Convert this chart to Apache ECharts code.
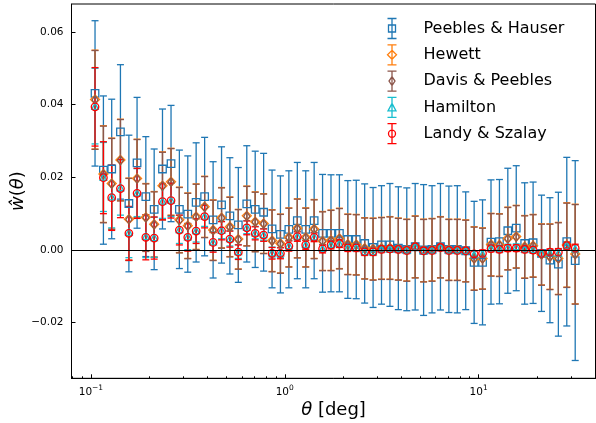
<!DOCTYPE html>
<html>
<head>
<meta charset="utf-8">
<script src="https://cdn.jsdelivr.net/npm/echarts@6/dist/echarts.min.js"></script>
<style>
  html, body { margin: 0; padding: 0; background: #fff; }
  #chart { width: 596px; height: 423px; }
</style>
</head>
<body>
<div id="chart"></div>
<script>
// bin centres (deg)
const theta = [0.105, 0.116, 0.128, 0.142, 0.157, 0.173, 0.192, 0.212, 0.234, 0.259,
  0.286, 0.316, 0.349, 0.386, 0.427, 0.472, 0.521, 0.576, 0.637, 0.704,
  0.778, 0.860, 0.950, 1.050, 1.161, 1.283, 1.418, 1.567, 1.732, 1.914,
  2.115, 2.338, 2.584, 2.856, 3.156, 3.488, 3.855, 4.261, 4.709, 5.204,
  5.752, 6.357, 7.026, 7.765, 8.582, 9.485, 10.48, 11.59, 12.81, 14.15,
  15.64, 17.29, 19.11, 21.12, 23.34, 25.80, 28.51, 31.51];

// Peebles & Hauser
const phVal = [0.0431, 0.0220, 0.0223, 0.0325, 0.0128, 0.0240, 0.0147, 0.0112, 0.0223, 0.0238,
  0.0112, 0.0099, 0.0131, 0.0147, 0.0083, 0.0124, 0.0094, 0.0069, 0.0127, 0.0112,
  0.0104, 0.0058, 0.0043, 0.0057, 0.0081, 0.0057, 0.0081, 0.0046, 0.0046, 0.0046,
  0.0029, 0.0029, 0.0018, 0.0007, 0.0014, 0.0014, 0.0005, 0.0002, 0.0009, 0.0000,
  0.0002, 0.0009, 0.0002, 0.0002, -0.0002, -0.0034, -0.0034, 0.0022, 0.0023, 0.0053,
  0.0060, 0.0018, 0.0020, -0.0009, -0.0028, -0.0039, 0.0023, -0.0029];
const phErr = [0.0200, 0.0204, 0.0192, 0.0185, 0.0188, 0.0180, 0.0165, 0.0166, 0.0165, 0.0160,
  0.0163, 0.0160, 0.0164, 0.0163, 0.0160, 0.0160, 0.0160, 0.0158, 0.0160, 0.0160,
  0.0162, 0.0162, 0.0161, 0.0161, 0.0160, 0.0161, 0.0160, 0.0162, 0.0161, 0.0161,
  0.0162, 0.0163, 0.0164, 0.0165, 0.0163, 0.0169, 0.0169, 0.0169, 0.0174, 0.0180,
  0.0175, 0.0174, 0.0174, 0.0175, 0.0162, 0.0168, 0.0172, 0.0171, 0.0171, 0.0172,
  0.0172, 0.0167, 0.0167, 0.0160, 0.0172, 0.0198, 0.0232, 0.0275];

// Hewett
const hwVal = [0.0414, 0.0209, 0.0183, 0.0248, 0.0085, 0.0197, 0.0090, 0.0071, 0.0177, 0.0188,
  0.0083, 0.0067, 0.0092, 0.0119, 0.0055, 0.0089, 0.0064, 0.0030, 0.0094, 0.0078,
  0.0073, 0.0026, 0.0018, 0.0035, 0.0060, 0.0035, 0.0058, 0.0025, 0.0027, 0.0032,
  0.0016, 0.0015, 0.0005, 0.0003, 0.0005, 0.0006, 0.0003, 0.0000, 0.0009, -0.0001,
  0.0001, 0.0008, 0.0001, 0.0001, -0.0002, -0.0023, -0.0023, 0.0015, 0.0014, 0.0032,
  0.0037, 0.0009, 0.0012, -0.0012, -0.0018, -0.0023, 0.0014, -0.0011];

// Davis & Peebles
const dpVal = [0.0413, 0.0208, 0.0182, 0.0247, 0.0084, 0.0196, 0.0089, 0.0070, 0.0176, 0.0187,
  0.0082, 0.0066, 0.0091, 0.0118, 0.0054, 0.0088, 0.0063, 0.0029, 0.0093, 0.0077,
  0.0072, 0.0025, 0.0017, 0.0034, 0.0059, 0.0034, 0.0057, 0.0024, 0.0026, 0.0031,
  0.0015, 0.0014, 0.0004, 0.0002, 0.0004, 0.0005, 0.0002, -0.0001, 0.0008, -0.0002,
  0.0000, 0.0007, 0.0000, 0.0000, -0.0003, -0.0024, -0.0024, 0.0014, 0.0013, 0.0031,
  0.0036, 0.0008, 0.0011, -0.0013, -0.0019, -0.0024, 0.0013, -0.0012];
const dpErr = [0.0136, 0.0133, 0.0125, 0.0112, 0.0113, 0.0108, 0.0093, 0.0090, 0.0093, 0.0092,
  0.0090, 0.0090, 0.0090, 0.0084, 0.0083, 0.0083, 0.0082, 0.0082, 0.0082, 0.0082,
  0.0082, 0.0085, 0.0081, 0.0081, 0.0081, 0.0081, 0.0081, 0.0081, 0.0083, 0.0083,
  0.0083, 0.0083, 0.0084, 0.0085, 0.0085, 0.0086, 0.0085, 0.0085, 0.0085, 0.0086,
  0.0086, 0.0084, 0.0084, 0.0084, 0.0085, 0.0087, 0.0084, 0.0086, 0.0086, 0.0086,
  0.0086, 0.0086, 0.0086, 0.0084, 0.0090, 0.0099, 0.0116, 0.0137];
// Hewett's bars lie under the Davis & Peebles ones
const hwErr = dpErr;

// Hamilton
const hmVal = [0.0396, 0.0201, 0.0147, 0.0172, 0.0049, 0.0158, 0.0038, 0.0035, 0.0135, 0.0138,
  0.0057, 0.0037, 0.0054, 0.0094, 0.0023, 0.0055, 0.0032, -0.0004, 0.0063, 0.0048,
  0.0043, -0.0007, -0.0007, 0.0013, 0.0039, 0.0016, 0.0037, 0.0005, 0.0016, 0.0019,
  0.0008, 0.0007, -0.0004, -0.0004, 0.0003, 0.0004, 0.0003, 0.0000, 0.0010, -0.0001,
  0.0000, 0.0008, 0.0000, 0.0000, -0.0001, -0.0012, -0.0010, 0.0006, 0.0004, 0.0008,
  0.0009, 0.0003, 0.0002, -0.0009, -0.0007, -0.0008, 0.0013, 0.0004];
const hmErr = [0.0104, 0.0095, 0.0086, 0.0076, 0.0070, 0.0066, 0.0059, 0.0055, 0.0048, 0.0046,
  0.0039, 0.0036, 0.0032, 0.0029, 0.0026, 0.0024, 0.0021, 0.0019, 0.0018, 0.0017,
  0.0016, 0.0015, 0.0014, 0.0013, 0.0012, 0.0011, 0.0011, 0.0010, 0.0010, 0.0010,
  0.0009, 0.0009, 0.0009, 0.0009, 0.0008, 0.0008, 0.0008, 0.0008, 0.0008, 0.0008,
  0.0008, 0.0008, 0.0008, 0.0008, 0.0008, 0.0008, 0.0008, 0.0008, 0.0008, 0.0008,
  0.0008, 0.0008, 0.0008, 0.0008, 0.0008, 0.0009, 0.0009, 0.0010];

// Landy & Szalay
const lsVal = [0.0394, 0.0199, 0.0144, 0.0169, 0.0046, 0.0156, 0.0035, 0.0033, 0.0133, 0.0136,
  0.0055, 0.0035, 0.0052, 0.0092, 0.0021, 0.0053, 0.0030, -0.0006, 0.0061, 0.0046,
  0.0041, -0.0009, -0.0009, 0.0011, 0.0037, 0.0014, 0.0035, 0.0003, 0.0014, 0.0018,
  0.0006, 0.0006, -0.0005, -0.0005, 0.0002, 0.0003, 0.0002, -0.0001, 0.0009, -0.0002,
  -0.0001, 0.0007, -0.0001, -0.0001, -0.0002, -0.0011, -0.0009, 0.0004, 0.0002, 0.0005,
  0.0005, 0.0002, 0.0000, -0.0009, -0.0006, -0.0006, 0.0012, 0.0005];
const lsErr = [0.0108, 0.0099, 0.0090, 0.0080, 0.0074, 0.0069, 0.0062, 0.0058, 0.0050, 0.0048,
  0.0041, 0.0038, 0.0034, 0.0031, 0.0027, 0.0025, 0.0022, 0.0020, 0.0019, 0.0018,
  0.0017, 0.0016, 0.0015, 0.0014, 0.0013, 0.0012, 0.0012, 0.0011, 0.0011, 0.0011,
  0.0010, 0.0010, 0.0010, 0.0010, 0.0009, 0.0009, 0.0009, 0.0009, 0.0009, 0.0009,
  0.0009, 0.0009, 0.0009, 0.0009, 0.0009, 0.0009, 0.0009, 0.0009, 0.0009, 0.0009,
  0.0009, 0.0009, 0.0009, 0.0009, 0.0009, 0.0010, 0.0010, 0.0011];

const xMajor = [0.1, 1, 10];
const xMinor = [0.08, 0.09, 0.2, 0.3, 0.4, 0.5, 0.6, 0.7, 0.8, 0.9,
  2, 3, 4, 5, 6, 7, 8, 9, 20, 30, 40];
const yTicks = [-0.02, 0, 0.02, 0.04, 0.06];

const FONT = 'DejaVu Sans';

// legend icons: error bar + marker, drawn in an 9x20 box
const BAR = 'M0 0 L9 0 M4.5 0 L4.5 20 M0 20 L9 20 ';
const icons = {
  square: 'path://' + BAR + 'M1 6.5 L8 6.5 L8 13.5 L1 13.5 Z',
  diamond: 'path://' + BAR + 'M4.5 5.5 L9 10 L4.5 14.5 L0 10 Z',
  thin: 'path://' + BAR + 'M4.5 5.5 L7.5 10 L4.5 14.5 L1.5 10 Z',
  tri: 'path://' + BAR + 'M4.5 6 L8.5 13.5 L0.5 13.5 Z',
  circle: 'path://' + BAR + 'M8 10 A3.5 3.5 0 1 1 1 10 A3.5 3.5 0 1 1 8 10 Z'
};

const sets = [
  { name: 'Peebles & Hauser', val: phVal, err: phErr, color: '#1f77b4', symbol: 'rect', size: 7.5, icon: icons.square },
  { name: 'Hewett', val: hwVal, err: hwErr, color: '#ff7f0e', symbol: 'diamond', size: [9, 9], icon: icons.diamond },
  { name: 'Davis & Peebles', val: dpVal, err: dpErr, color: '#8c564b', symbol: 'diamond', size: [6, 9], icon: icons.thin },
  { name: 'Hamilton', val: hmVal, err: hmErr, color: '#17becf', symbol: 'triangle', size: 6.5, icon: icons.tri },
  { name: 'Landy & Szalay', val: lsVal, err: lsErr, color: '#ff0000', symbol: 'circle', size: 7.5, icon: icons.circle }
];

function errRender(color) {
  return function (params, api) {
    const x = api.value(0), y = api.value(1), e = api.value(2);
    const top = api.coord([x, y + e]);
    const bot = api.coord([x, y - e]);
    const h = 3.5;
    const st = { stroke: color, lineWidth: 1.3 };
    return {
      type: 'group',
      children: [
        { type: 'line', shape: { x1: top[0], y1: top[1], x2: bot[0], y2: bot[1] }, style: st },
        { type: 'line', shape: { x1: top[0] - h, y1: top[1], x2: top[0] + h, y2: top[1] }, style: st },
        { type: 'line', shape: { x1: bot[0] - h, y1: bot[1], x2: bot[0] + h, y2: bot[1] }, style: st }
      ]
    };
  };
}

const series = [];
sets.forEach(function (s, k) {
  series.push({
    name: s.name,
    type: 'custom',
    renderItem: errRender(s.color),
    data: theta.map(function (t, i) { return [t, s.val[i], s.err[i]]; }),
    encode: { x: 0, y: 1 },
    silent: true,
    markLine: k === 0 ? {
      silent: true,
      symbol: 'none',
      label: { show: false },
      lineStyle: { color: '#000', width: 1.2, type: 'solid' },
      data: [{ yAxis: 0 }]
    } : undefined
  });
  series.push({
    name: s.name,
    type: 'scatter',
    symbol: s.symbol,
    symbolSize: s.size,
    itemStyle: { color: 'none', borderColor: s.color, borderWidth: 1.3, opacity: 1 },
    data: theta.map(function (t, i) { return [t, s.val[i]]; }),
    silent: true
  });
});

const chart = echarts.init(document.getElementById('chart'), null, { renderer: 'canvas' });

const supLabel = function (v) {
  const p = Math.round(Math.log10(v));
  return '{b|10}{s|' + String(p).replace('-', '\u2212') + '}';
};

chart.setOption({
  animation: false,
  backgroundColor: '#fff',
  textStyle: { fontFamily: FONT },
  grid: {
    left: 71.5, right: 0.5, top: 4, bottom: 44.7,
    outerBoundsMode: 'none', containLabel: false,
    show: true, borderColor: '#000', borderWidth: 1
  },
  legend: {
    orient: 'vertical',
    left: 380,
    top: 11,
    itemWidth: 9,
    itemHeight: 20,
    itemGap: 1.3,
    textStyle: { fontFamily: FONT, fontSize: 16, color: '#000', padding: [0, 0, 0, 22] },
    data: sets.map(function (s) {
      return { name: s.name, icon: s.icon, itemStyle: { color: 'none', borderColor: s.color, borderWidth: 1.3 } };
    })
  },
  xAxis: [{
    type: 'log',
    logBase: 10,
    min: 0.0794,
    max: 40.1,
    position: 'bottom',
    name: '{i|θ} [deg]',
    nameLocation: 'middle',
    nameGap: 23,
    nameMoveOverlap: false,
    nameTextStyle: {
      fontFamily: FONT, fontSize: 18, color: '#000',
      rich: { i: { fontFamily: FONT, fontSize: 18, fontStyle: 'italic', color: '#000' } }
    },
    axisLine: { show: true, onZero: false, lineStyle: { color: '#000', width: 1 } },
    axisTick: { show: true, inside: true, length: 4, customValues: xMajor, lineStyle: { color: '#000' } },
    axisLabel: {
      show: true, margin: 6, customValues: xMajor, formatter: supLabel,
      rich: {
        b: { fontFamily: FONT, fontSize: 10.5, color: '#000' },
        s: { fontFamily: FONT, fontSize: 7.5, color: '#000', padding: [0, 0, 7, 0] }
      }
    },
    splitLine: { show: false }
  }, {
    type: 'log',
    logBase: 10,
    min: 0.0794,
    max: 40.1,
    position: 'bottom',
    axisLine: { show: false, onZero: false },
    axisTick: { show: true, inside: true, length: 2, customValues: xMinor, lineStyle: { color: '#000' } },
    axisLabel: { show: false },
    splitLine: { show: false }
  }],
  yAxis: {
    type: 'value',
    min: -0.0353,
    max: 0.0677,
    name: '{i|ŵ}({i|θ})',
    nameLocation: 'middle',
    nameRotate: 90,
    nameGap: 44,
    nameMoveOverlap: false,
    nameTextStyle: {
      fontFamily: FONT, fontSize: 18, color: '#000',
      rich: { i: { fontFamily: FONT, fontSize: 18, fontStyle: 'italic', color: '#000' } }
    },
    axisLine: { show: true, onZero: false, lineStyle: { color: '#000', width: 1 } },
    axisTick: { show: true, inside: true, length: 4, customValues: yTicks, lineStyle: { color: '#000' } },
    axisLabel: {
      show: true, margin: 8, customValues: yTicks, fontFamily: FONT, fontSize: 10.5, color: '#000',
      formatter: function (v) { return (v < 0 ? '\u2212' : '') + Math.abs(v).toFixed(2); }
    },
    splitLine: { show: false }
  },
  series: series
});
</script>
</body>
</html>
